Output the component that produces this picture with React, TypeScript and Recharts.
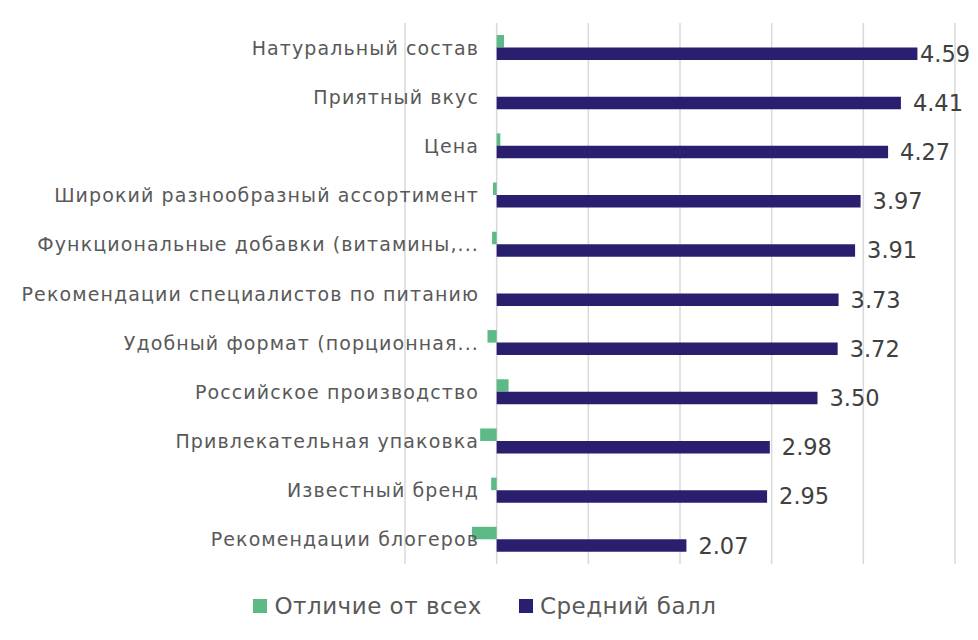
import React from "react";
import { BarChart, Bar, XAxis, YAxis, CartesianGrid, Legend, LabelList } from "recharts";

const categories = [
  "Натуральный состав",
  "Приятный вкус",
  "Цена",
  "Широкий разнообразный  ассортимент",
  "Функциональные добавки (витамины,...",
  "Рекомендации специалистов по питанию",
  "Удобный формат (порционная...",
  "Российское производство",
  "Привлекательная упаковка",
  "Известный бренд",
  "Рекомендации блогеров",
];
const diffValues = [0.08, 0, 0.04, -0.04, -0.05, 0, -0.1, 0.13, -0.18, -0.06, -0.27];
const avgValues = [4.59, 4.41, 4.27, 3.97, 3.91, 3.73, 3.72, 3.5, 2.98, 2.95, 2.07];
const xTicks = [-1, 0, 1, 2, 3, 4, 5];

const data = categories.map((name, i) => ({ name, diff: diffValues[i], avg: avgValues[i] }));

const W = 978;
const H = 640;
const FONT = "'DejaVu Sans', sans-serif";
const GREEN = "#5DB986";
const NAVY = "#2A1E6E";
const Y_AXIS_W = 60;

const CategoryTick = (props: any) => {
  const { x, y, payload } = props;
  return (
    <text
      x={x}
      y={y}
      textAnchor="end"
      dominantBaseline="central"
      fill="#595959"
      fontSize={19}
      letterSpacing={1.1}
      fontFamily={FONT}
    >
      {payload.value}
    </text>
  );
};

const ValueLabel = (props: any) => {
  const { x, y, width, height, value } = props;
  const tx = Math.min(x + width + 12, W - 58);
  return (
    <text x={tx} y={y + height / 2} dominantBaseline="central" fill="#404040" fontSize={22.5} fontFamily={FONT}>
      {Number(value).toFixed(2)}
    </text>
  );
};

const LegendContent = (props: any) => {
  const items = props.payload || [];
  return (
    <div
      style={{
        display: "flex",
        justifyContent: "center",
        alignItems: "center",
        gap: 37,
        fontFamily: FONT,
        fontSize: 23,
        letterSpacing: 0.5,
        color: "#595959",
      }}
    >
      {items.map((it: any) => (
        <div key={it.value} style={{ display: "flex", alignItems: "center", gap: 7 }}>
          <span style={{ display: "inline-block", width: 14, height: 14, background: it.color }} />
          <span>{it.value}</span>
        </div>
      ))}
    </div>
  );
};

export default function App() {
  return (
    <div style={{ position: "absolute", left: 0, top: 0, width: W, height: H, background: "#fff", fontFamily: FONT }}>
      <BarChart
        width={W}
        height={H}
        data={data}
        layout="vertical"
        margin={{ top: 23, right: 23, bottom: 50, left: 405 - Y_AXIS_W }}
        barGap={0}
      >
        <CartesianGrid horizontal={false} stroke="#D9D9D9" strokeWidth={1.5} />
        <XAxis type="number" domain={[-1, 5]} ticks={xTicks} hide />
        <YAxis
          type="category"
          dataKey="name"
          width={Y_AXIS_W}
          axisLine={false}
          tickLine={false}
          tick={<CategoryTick />}
          tickMargin={-80}
          interval={0}
        />
        <Legend
          verticalAlign="bottom"
          content={<LegendContent />}
          wrapperStyle={{ bottom: 21, left: 0, width: W - 8 }}
        />
        <Bar dataKey="diff" name="Отличие от всех" fill={GREEN} barSize={12.5} isAnimationActive={false} />
        <Bar dataKey="avg" name="Средний балл" fill={NAVY} barSize={12.5} isAnimationActive={false}>
          <LabelList dataKey="avg" content={<ValueLabel />} />
        </Bar>
      </BarChart>
    </div>
  );
}
